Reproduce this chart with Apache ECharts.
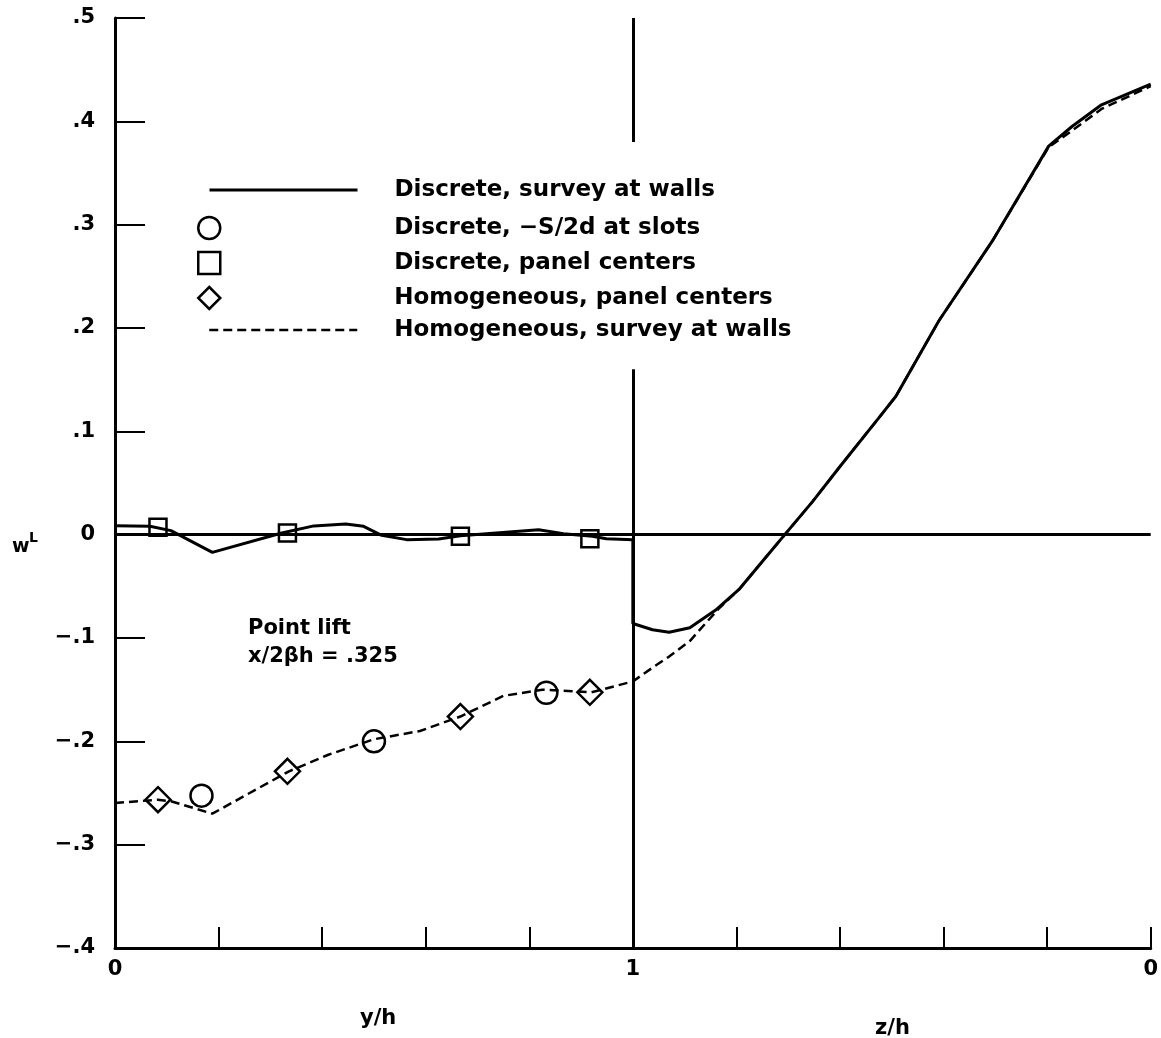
<!DOCTYPE html>
<html>
<head>
<meta charset="utf-8">
<title>Point lift</title>
<script src="https://cdn.jsdelivr.net/npm/echarts@6/dist/echarts.min.js"></script>
<style>
  html, body { margin: 0; padding: 0; background: #fff; }
  #chart { width: 1161px; height: 1038px; }
</style>
</head>
<body>
<div id="chart"></div>
<script>
// x runs 0..1 over y/h, then 1..2 is z/h going back from 1 to 0
const xTickLabels = { 0: "0", 1: "1", 2: "0" };

const discreteWallX = [0, 0.0675, 0.108, 0.188, 0.322, 0.384, 0.4455, 0.48, 0.515, 0.563,
  0.625, 0.667, 0.818, 0.866, 0.922, 0.949, 1.0, 1.0, 1.038, 1.07,
  1.11, 1.16, 1.205, 1.25, 1.295, 1.347, 1.4, 1.475, 1.508, 1.591,
  1.694, 1.803, 1.848, 1.905, 2.0];
const discreteWallY = [0.0087, 0.0081, 0.0039, -0.0171, 0.0016, 0.0085, 0.0103, 0.0081, -0.0006, -0.0048,
  -0.0042, -0.001, 0.0048, 0.001, -0.0016, -0.0039, -0.0048, -0.086, -0.092, -0.0945,
  -0.09, -0.073, -0.053, -0.026, 0.001, 0.032, 0.066, 0.113, 0.134, 0.207,
  0.284, 0.376, 0.395, 0.416, 0.436];

const homogWallX = [0, 0.083, 0.108, 0.188, 0.336, 0.412, 0.5, 0.589, 0.667, 0.75,
  0.825, 0.92, 1.0, 1.04, 1.07, 1.11, 1.14, 1.167, 1.205, 1.25,
  1.295, 1.347, 1.4, 1.475, 1.508, 1.591, 1.694, 1.803, 1.848, 1.905, 2.0];
const homogWallY = [-0.2597, -0.2565, -0.258, -0.27, -0.229, -0.213, -0.198, -0.19, -0.176, -0.156,
  -0.15, -0.1526, -0.142, -0.128, -0.118, -0.103, -0.086, -0.071, -0.053, -0.026,
  0.001, 0.032, 0.066, 0.113, 0.134, 0.207, 0.284, 0.375, 0.391, 0.412, 0.434];

const panelX = [0.083, 0.333, 0.667, 0.917];
const discretePanelY = [0.0071, 0.0016, -0.0016, -0.0039];
const homogPanelY = [-0.2565, -0.229, -0.176, -0.1526];

const slotX = [0.167, 0.5, 0.833];
const slotY = [-0.2526, -0.2, -0.153];

// the wall line at x = 1 is broken where the legend sits
const dividerX = 1;
const dividerSpans = [[0.5, 0.38], [0.16, -0.4]];

const names = [
  "Discrete, survey at walls",
  "Discrete, \u2212S/2d at slots",
  "Discrete, panel centers",
  "Homogeneous, panel centers",
  "Homogeneous, survey at walls",
];

const FONT = "DejaVu Sans";
const zip = (xs, ys) => xs.map((x, i) => [x, ys[i]]);

const fmtY = (v) => {
  const r = Math.round(v * 10) / 10;
  if (r === 0) return "0";
  const s = Math.abs(r).toFixed(1).replace(/^0/, "");
  return (r < 0 ? "\u2212" : "") + s;
};

const chart = echarts.init(document.getElementById("chart"));

const textBase = { fontFamily: FONT, fontWeight: "bold", fontSize: 21, fill: "#000" };
const legendText = { fontFamily: FONT, fontWeight: "bold", fontSize: 23, color: "#000", lineHeight: 26 };
const markerStyle = { color: "transparent", borderColor: "#000", borderWidth: 2.5, opacity: 1 };

chart.setOption({
  animation: false,
  backgroundColor: "#fff",
  grid: { left: 115, right: 9, top: 18, bottom: 90 },
  legend: [
    {
      data: [names[0]],
      orient: "vertical", left: 208, top: 177, padding: 0,
      itemWidth: 148, itemHeight: 14, selectedMode: false,
      itemStyle: { color: "transparent", borderWidth: 0 },
      lineStyle: { width: 3 },
      textStyle: { ...legendText, padding: [0, 0, 0, 32] },
    },
    {
      data: [names[1], names[2], names[3]],
      orient: "vertical", left: 197, top: 215, padding: 0, itemGap: 9,
      itemWidth: 22, itemHeight: 22, selectedMode: false,
      itemStyle: markerStyle,
      textStyle: { ...legendText, padding: [0, 0, 0, 169] },
    },
    {
      data: [names[4]],
      orient: "vertical", left: 208, top: 317, padding: 0,
      itemWidth: 148, itemHeight: 14, selectedMode: false,
      itemStyle: { color: "transparent", borderWidth: 0 },
      lineStyle: { width: 2.5 },
      textStyle: { ...legendText, padding: [0, 0, 0, 32] },
    },
  ],
  xAxis: {
    type: "value",
    min: 0,
    max: 2,
    interval: 0.2,
    axisLine: { onZero: false, lineStyle: { color: "#000", width: 3 } },
    axisTick: { inside: true, length: 21, lineStyle: { color: "#000", width: 2 } },
    splitLine: { show: false },
    axisLabel: {
      margin: 11,
      showMaxLabel: true,
      fontFamily: FONT, fontWeight: "bold", fontSize: 21, color: "#000",
      formatter: (v) => {
        const k = Math.round(v * 10) / 10;
        return xTickLabels[k] !== undefined ? xTickLabels[k] : "";
      },
    },
  },
  yAxis: {
    type: "value",
    min: -0.4,
    max: 0.5,
    interval: 0.1,
    axisLine: { show: true, onZero: false, lineStyle: { color: "#000", width: 3 } },
    axisTick: { inside: true, length: 30, lineStyle: { color: "#000", width: 2 } },
    splitLine: { show: false },
    axisLabel: {
      margin: 20,
      fontFamily: FONT, fontWeight: "bold", fontSize: 21, color: "#000",
      formatter: fmtY,
    },
  },
  series: [
    {
      name: names[0],
      type: "line",
      symbol: "none",
      data: zip(discreteWallX, discreteWallY),
      lineStyle: { color: "#000", width: 3 },
      itemStyle: { color: "#000" },
      z: 3,
      markLine: {
        silent: true,
        symbol: "none",
        label: { show: false },
        lineStyle: { color: "#000", width: 3, type: "solid" },
        data: [
          { yAxis: 0 },
          ...dividerSpans.map((s) => [{ coord: [dividerX, s[0]] }, { coord: [dividerX, s[1]] }]),
        ],
      },
    },
    {
      name: names[1],
      type: "scatter",
      symbol: "circle",
      symbolSize: 22,
      data: zip(slotX, slotY),
      itemStyle: markerStyle,
      z: 5,
    },
    {
      name: names[2],
      type: "scatter",
      symbol: "rect",
      symbolSize: 17,
      data: zip(panelX, discretePanelY),
      itemStyle: markerStyle,
      z: 5,
    },
    {
      name: names[3],
      type: "scatter",
      symbol: "diamond",
      symbolSize: 25,
      data: zip(panelX, homogPanelY),
      itemStyle: markerStyle,
      z: 5,
    },
    {
      name: names[4],
      type: "line",
      symbol: "none",
      data: zip(homogWallX, homogWallY),
      lineStyle: { color: "#000", width: 2.5, type: [9, 5] },
      itemStyle: { color: "#000" },
      z: 3,
    },
  ],
  graphic: [
    { type: "text", left: 248, top: 618, style: { ...textBase, text: "Point lift" } },
    { type: "text", left: 248, top: 646, style: { ...textBase, text: "x/2\u03b2h = .325" } },
    { type: "text", left: 12, top: 538, style: { ...textBase, fontSize: 19, text: "w" } },
    { type: "text", left: 29, top: 531, style: { ...textBase, fontSize: 14, text: "L" } },
    { type: "text", left: 360, top: 1008, style: { ...textBase, text: "y/h" } },
    { type: "text", left: 875, top: 1018, style: { ...textBase, text: "z/h" } },
  ],
});

window.addEventListener("resize", () => chart.resize());
</script>
</body>
</html>
